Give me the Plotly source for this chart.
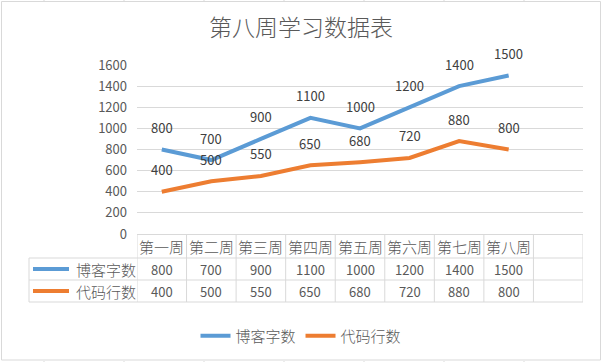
import plotly.graph_objects as go

# ---- data ----
categories = ["第一周", "第二周", "第三周", "第四周", "第五周", "第六周", "第七周", "第八周"]
blog_words = [800, 700, 900, 1100, 1000, 1200, 1400, 1500]
code_lines = [400, 500, 550, 650, 680, 720, 880, 800]
series_names = ["博客字数", "代码行数"]
y_ticks = [0, 200, 400, 600, 800, 1000, 1200, 1400, 1600]
title_text = "第八周学习数据表"

W, H = 602, 362
BLUE = "#5B9BD5"
ORANGE = "#ED7D31"
GRID = "#D9D9D9"
TXT = "#595959"
LBL = "#404040"
FONT = "Noto Sans CJK SC"


def px(x):
    return x / W


def py(y):
    return 1 - y / H


plot_left, plot_right = 137, 583
plot_top, plot_bottom = 65, 234
row_lines = [258, 280, 302]
header_c, row1_c, row2_c = 246, 269, 291
table_left = 29

series = [(series_names[0], blog_words, BLUE), (series_names[1], code_lines, ORANGE)]
idx = list(range(len(categories)))

fig = go.Figure()
for name, vals, col in series:
    fig.add_trace(go.Scatter(
        x=idx, y=vals, mode="lines", name=name,
        line=dict(color=col, width=4),
        hoverinfo="skip",
    ))

annotations = []
shapes = []

# data labels
for name, vals, col in series:
    for i, v in zip(idx, vals):
        annotations.append(dict(
            x=i, y=v, xref="x", yref="y", text=str(v), showarrow=False,
            yshift=22, font=dict(family=FONT, size=13, color=LBL),
        ))

# data table: header
for i, c in enumerate(categories):
    annotations.append(dict(
        x=i, y=py(header_c), xref="x", yref="paper", text=c, showarrow=False,
        yanchor="middle", font=dict(family=FONT, size=15, color=TXT, weight=300),
    ))
# data table: rows
for (name, vals, col), rc in zip(series, [row1_c, row2_c]):
    for i, v in zip(idx, vals):
        annotations.append(dict(
            x=i, y=py(rc), xref="x", yref="paper", text=str(v), showarrow=False,
            yanchor="middle", font=dict(family=FONT, size=13, color=TXT),
        ))
    annotations.append(dict(
        x=px(74), y=py(rc), xref="paper", yref="paper", text=name, showarrow=False,
        xanchor="left", yanchor="middle", font=dict(family=FONT, size=15, color=TXT, weight=300),
    ))
    shapes.append(dict(
        type="line", xref="paper", yref="paper", x0=px(33), x1=px(69),
        y0=py(rc), y1=py(rc), line=dict(color=col, width=4),
    ))

# table grid lines
n_slots = len(categories) + 1
for k in range(n_slots + 1):
    shapes.append(dict(
        type="line", xref="x", yref="paper", x0=k - 0.5, x1=k - 0.5,
        y0=py(plot_bottom), y1=py(row_lines[-1]), line=dict(color=GRID, width=1),
    ))
shapes.append(dict(
    type="line", xref="paper", yref="paper", x0=px(table_left), x1=px(table_left),
    y0=py(row_lines[0]), y1=py(row_lines[-1]), line=dict(color=GRID, width=1),
))
for yl in row_lines:
    shapes.append(dict(
        type="line", xref="paper", yref="paper", x0=px(table_left), x1=px(plot_right),
        y0=py(yl), y1=py(yl), line=dict(color=GRID, width=1),
    ))

# chart border
shapes.append(dict(
    type="rect", xref="paper", yref="paper", x0=px(1.5), x1=px(600.5),
    y0=py(360), y1=py(1.5), line=dict(color=GRID, width=1),
))
# spreadsheet cell ticks outside chart
for xc in range(44, 602, 80):
    shapes.append(dict(type="line", xref="paper", yref="paper", x0=px(xc), x1=px(xc),
                       y0=py(0), y1=py(1), line=dict(color=GRID, width=1)))
    shapes.append(dict(type="line", xref="paper", yref="paper", x0=px(xc), x1=px(xc),
                       y0=py(361), y1=py(362), line=dict(color=GRID, width=1)))

fig.update_layout(
    template="none",
    width=W, height=H,
    margin=dict(l=0, r=0, t=0, b=0, pad=0, autoexpand=False),
    paper_bgcolor="white", plot_bgcolor="white",
    title=dict(text=title_text, x=0.5, xanchor="center", y=py(28), yanchor="middle",
               font=dict(family=FONT, size=23, color=TXT, weight=300)),
    xaxis=dict(
        domain=[px(plot_left), px(plot_right)], range=[-0.5, n_slots - 0.5],
        showticklabels=False, showgrid=False, zeroline=False, automargin=False,
        showline=True, linecolor=GRID, linewidth=1, fixedrange=True, ticks="",
    ),
    yaxis=dict(
        domain=[py(plot_bottom), py(plot_top)], range=[0, 1600],
        tickvals=y_ticks, ticktext=[str(t) for t in y_ticks],
        showgrid=True, gridcolor=GRID, gridwidth=1, zeroline=False, automargin=False,
        showline=False, ticks="", ticklabelstandoff=9,
        tickfont=dict(family=FONT, size=13, color=TXT), fixedrange=True,
    ),
    showlegend=True,
    legend=dict(
        orientation="h", x=0.5, xanchor="center", y=py(336), yanchor="middle",
        font=dict(family=FONT, size=15, color=TXT, weight=300), itemwidth=30,
        bgcolor="rgba(0,0,0,0)", tracegroupgap=0,
    ),
    annotations=annotations,
    shapes=shapes,
)

fig.write_html(
    "out.html",
    config={"displayModeBar": False, "staticPlot": True},
    post_script="document.body.style.margin='0px';document.body.style.overflow='hidden';",
)
